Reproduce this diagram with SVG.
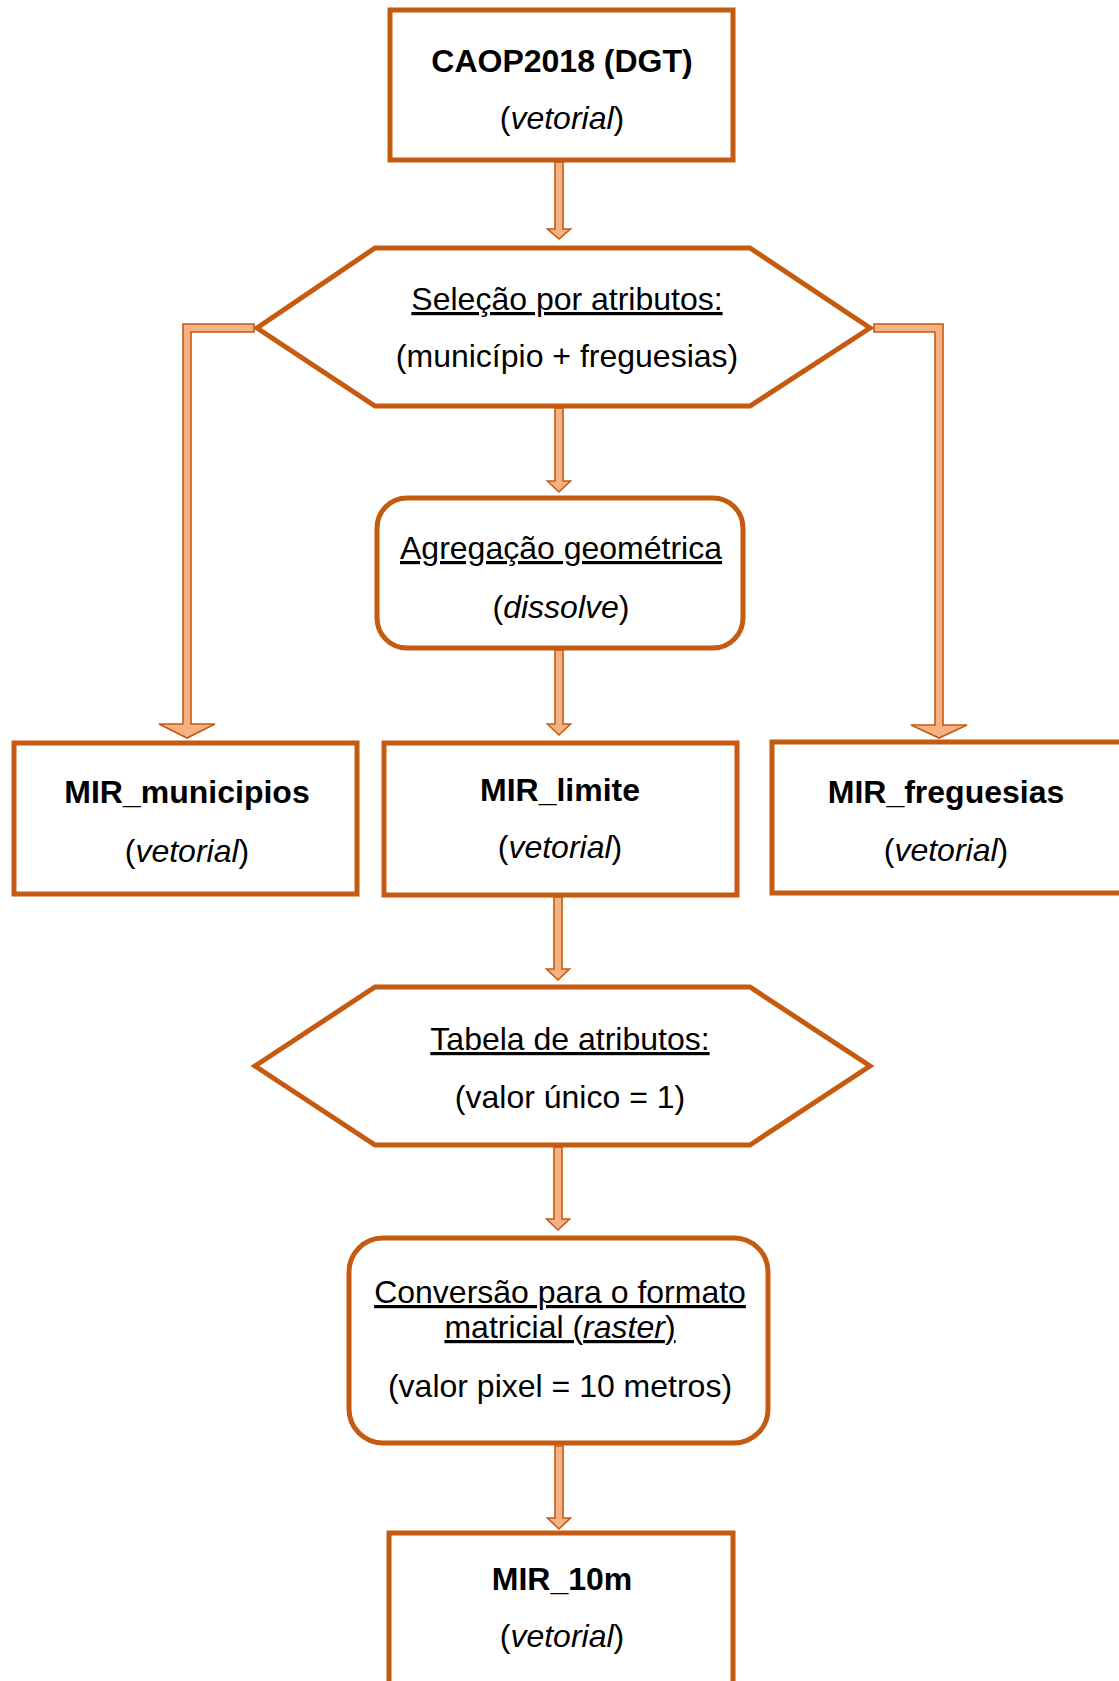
<svg xmlns="http://www.w3.org/2000/svg" width="1119" height="1681" viewBox="0 0 1119 1681">
<style>
.box{fill:#fff;stroke:#C55A11;stroke-width:5}
.arr{fill:#F4B183;stroke:#C55A11;stroke-width:1.6;stroke-linejoin:miter}
text{font-family:"Liberation Sans",Arial,sans-serif;font-size:32px;fill:#000;text-anchor:middle}
.b{font-weight:bold}
.i{font-style:italic}
.u{text-decoration:underline}
</style>
<rect width="1119" height="1681" fill="#fff"/>
<g id="connectors">
<polygon class="arr" points="555,162 563,162 563,229 570.5,229 559,239 547.5,229 555,229"/>
<polygon class="arr" points="555,408 563,408 563,481 570.5,481 559,492 547.5,481 555,481"/>
<polygon class="arr" points="555,650 563,650 563,724 570.5,724 559,735 547.5,724 555,724"/>
<polygon class="arr" points="554,897 562,897 562,969 569.5,969 558,980 546.5,969 554,969"/>
<polygon class="arr" points="554,1147 562,1147 562,1219 569.5,1219 558,1230 546.5,1219 554,1219"/>
<polygon class="arr" points="555,1446 563,1446 563,1518 570.5,1518 559,1529 547.5,1518 555,1518"/>
<polygon class="arr" points="254,324 183,324 183,724 159,724 187,738 215,724 191,724 191,332 254,332"/>
<polygon class="arr" points="874,324 943,324 943,725 967,725 939,738 911,725 935,725 935,332 874,332"/>
</g>
<g id="caop">
<rect class="box" x="390" y="10" width="343" height="150"/>
<text class="b" x="562" y="72">CAOP2018 (DGT)</text>
<text x="562" y="129">(<tspan class="i">vetorial</tspan>)</text>
</g>
<g id="selecao">
<polygon class="box" points="375,248 750,248 870,328 750,406 375,406 257,328"/>
<text class="u" x="567" y="310">Seleção por atributos:</text>
<text x="567" y="367">(município + freguesias)</text>
</g>
<g id="agregacao">
<rect class="box" x="377" y="498" width="366" height="150" rx="30" ry="30"/>
<text class="u" x="561" y="559">Agregação geométrica</text>
<text x="561" y="618">(<tspan class="i">dissolve</tspan>)</text>
</g>
<g id="mir_municipios">
<rect class="box" x="14" y="743" width="343" height="151"/>
<text class="b" x="187" y="803">MIR_municipios</text>
<text x="187" y="862">(<tspan class="i">vetorial</tspan>)</text>
</g>
<g id="mir_limite">
<rect class="box" x="384" y="743" width="353" height="152"/>
<text class="b" x="560" y="801">MIR_limite</text>
<text x="560" y="858">(<tspan class="i">vetorial</tspan>)</text>
</g>
<g id="mir_freguesias">
<rect class="box" x="772" y="742" width="360" height="151"/>
<text class="b" x="946" y="803">MIR_freguesias</text>
<text x="946" y="861">(<tspan class="i">vetorial</tspan>)</text>
</g>
<g id="tabela">
<polygon class="box" points="375,987 750,987 870,1066 750,1145 375,1145 255,1066"/>
<text class="u" x="570" y="1050">Tabela de atributos:</text>
<text x="570" y="1108">(valor único = 1)</text>
</g>
<g id="conversao">
<rect class="box" x="349" y="1238" width="419" height="205" rx="34" ry="34"/>
<text class="u" x="560" y="1303">Conversão para o formato</text>
<text class="u" x="560" y="1338">matricial (<tspan class="i">raster</tspan>)</text>
<text x="560" y="1397">(valor pixel = 10 metros)</text>
</g>
<g id="mir_10m">
<rect class="box" x="389" y="1533" width="344" height="200"/>
<text class="b" x="562" y="1590">MIR_10m</text>
<text x="562" y="1647">(<tspan class="i">vetorial</tspan>)</text>
</g>
</svg>
